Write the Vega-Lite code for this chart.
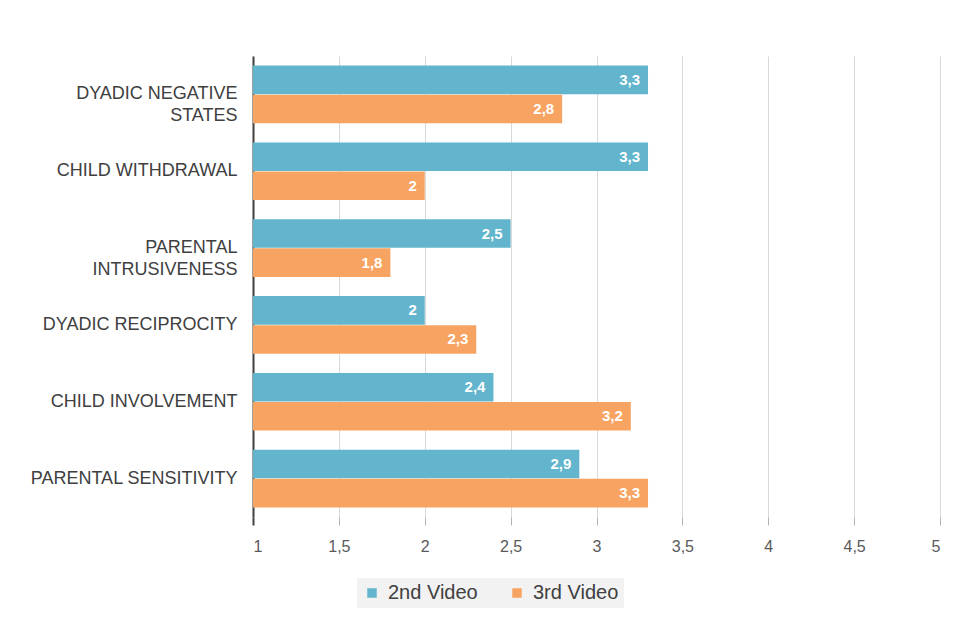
{
  "$schema": "https://vega.github.io/schema/vega-lite/v6.json",
  "autosize": {"type": "none"},
  "padding": {"left": 253, "top": 56, "right": 29, "bottom": 117},
  "width": 687,
  "height": 461,
  "background": "white",
  "config": {
    "font": "Liberation Sans",
    "view": {"stroke": null},
    "locale": {"number": {"decimal": ",", "thousands": ".", "grouping": [3], "currency": ["", " €"]}}
  },
  "data": {
    "values": [
      {"category": "DYADIC NEGATIVE STATES", "series": "2nd Video", "value": 3.3},
      {"category": "DYADIC NEGATIVE STATES", "series": "3rd Video", "value": 2.8},
      {"category": "CHILD WITHDRAWAL", "series": "2nd Video", "value": 3.3},
      {"category": "CHILD WITHDRAWAL", "series": "3rd Video", "value": 2},
      {"category": "PARENTAL INTRUSIVENESS", "series": "2nd Video", "value": 2.5},
      {"category": "PARENTAL INTRUSIVENESS", "series": "3rd Video", "value": 1.8},
      {"category": "DYADIC RECIPROCITY", "series": "2nd Video", "value": 2},
      {"category": "DYADIC RECIPROCITY", "series": "3rd Video", "value": 2.3},
      {"category": "CHILD INVOLVEMENT", "series": "2nd Video", "value": 2.4},
      {"category": "CHILD INVOLVEMENT", "series": "3rd Video", "value": 3.2},
      {"category": "PARENTAL SENSITIVITY", "series": "2nd Video", "value": 2.9},
      {"category": "PARENTAL SENSITIVITY", "series": "3rd Video", "value": 3.3}
    ]
  },
  "encoding": {
    "y": {
      "field": "category",
      "type": "nominal",
      "sort": null,
      "scale": {"paddingInner": 0.25, "paddingOuter": 0.125},
      "axis": {
        "title": null,
        "domain": true,
        "domainColor": "#404040",
        "domainWidth": 2,
        "ticks": false,
        "labelPadding": 16,
        "labelFontSize": 18,
        "labelColor": "#404040",
        "labelLineHeight": 22,
        "labelLimit": 300,
        "labelExpr": "datum.value == 'DYADIC NEGATIVE STATES' ? ['DYADIC NEGATIVE', 'STATES'] : datum.value == 'PARENTAL INTRUSIVENESS' ? ['PARENTAL', 'INTRUSIVENESS'] : datum.value"
      }
    },
    "yOffset": {"field": "series", "type": "nominal", "scale": {"paddingInner": 0.02}},
    "x": {
      "field": "value",
      "type": "quantitative",
      "scale": {"domain": [1, 5], "zero": false, "nice": false},
      "axis": {
        "title": null,
        "values": [1, 1.5, 2, 2.5, 3, 3.5, 4, 4.5, 5],
        "format": "~f",
        "domain": false,
        "grid": true,
        "gridColor": "#d9d9d9",
        "gridWidth": 1,
        "tickColor": {"condition": {"test": "datum.value == 1", "value": "#404040"}, "value": "#b3b3b3"},
        "tickWidth": {"condition": {"test": "datum.value == 1", "value": 2}, "value": 1},
        "tickSize": 8,
        "labelPadding": 13,
        "labelFontSize": 16,
        "labelColor": "#595959"
      }
    }
  },
  "layer": [
    {
      "mark": {"type": "bar"},
      "encoding": {
        "x2": {"datum": 1},
        "color": {
          "field": "series",
          "type": "nominal",
          "scale": {"domain": ["2nd Video", "3rd Video"], "range": ["#62B5CC", "#F7A462"]},
          "legend": {
            "title": null,
            "orient": "none",
            "direction": "horizontal",
            "legendX": 104,
            "legendY": 522,
            "fillColor": "#f2f2f2",
            "padding": 5,
            "symbolType": "square",
            "symbolSize": 90,
            "symbolStrokeWidth": 0,
            "labelFontSize": 20,
            "labelColor": "#404040",
            "labelOffset": 6,
            "columnPadding": 29
          }
        }
      }
    },
    {
      "mark": {"type": "text", "align": "right", "dx": -8, "color": "white", "fontWeight": "bold", "fontSize": 15, "baseline": "middle"},
      "encoding": {
        "text": {"field": "value", "type": "quantitative", "format": "~f"},
        "detail": {"field": "series"}
      }
    }
  ]
}
